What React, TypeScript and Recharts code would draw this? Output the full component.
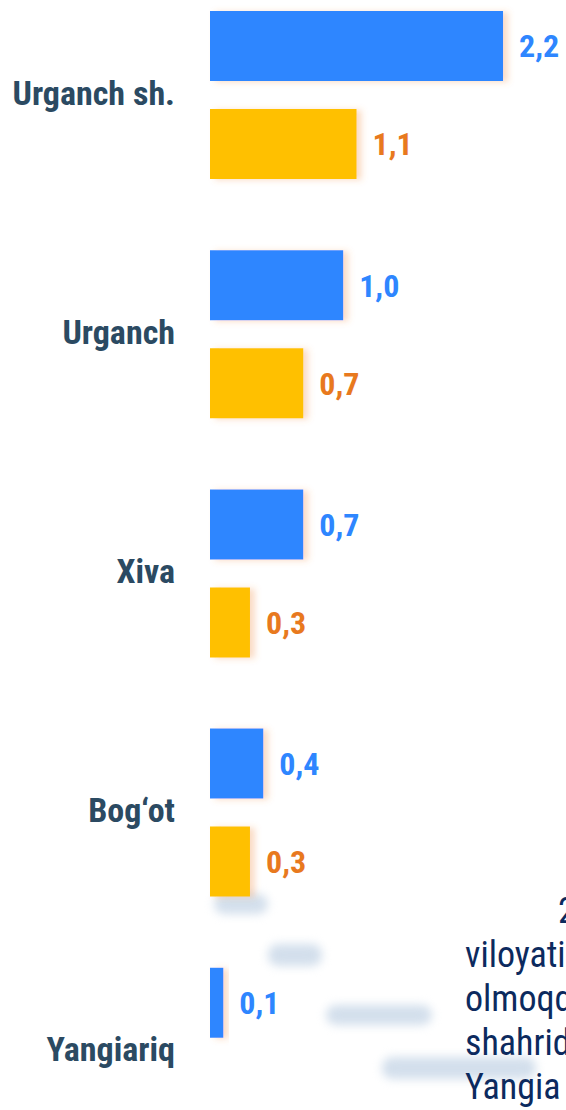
import React from 'react'
import { BarChart, Bar, XAxis, YAxis, LabelList } from 'recharts'

const districts = ['Urganch sh.', 'Urganch', 'Xiva', 'Bog‘ot', 'Yangiariq']
const blueValues = [2.2, 1.0, 0.7, 0.4, 0.1]
const yellowValues = [1.1, 0.7, 0.3, 0.3, 0]

// visible fragment of the neighbouring paragraph (cut by the page edge)
const sideLines = ['viloyati', 'olmoqd', 'shahrid', 'Yangia']

const data = districts.map((name, i) => ({ name, blue: blueValues[i], yellow: yellowValues[i] }))

const FONT = "'Roboto Condensed', 'Liberation Sans Narrow', 'DejaVu Sans Condensed', Roboto, sans-serif"
const BLUE = '#2E86FF'
const YELLOW = '#FFC000'
const ORANGE = '#E8791E'
const SLATE = '#2B4A62'

const fmt = (v: any) => (Number(v) === 0 ? '0' : Number(v).toFixed(1).replace('.', ','))

const CategoryTick = (props: any) => {
  const { y, payload } = props
  return (
    <text x={175} y={y + 10} textAnchor="end" fill={SLATE} fontSize={34} fontWeight={700} fontFamily={FONT}>
      {payload.value}
    </text>
  )
}

// soft blurred blobs in the lower part
const blobs = [
  { left: 214, top: 894, w: 54, h: 20 },
  { left: 268, top: 944, w: 54, h: 22 },
  { left: 326, top: 1005, w: 106, h: 20 },
  { left: 382, top: 1057, w: 154, h: 22 },
]

const App: React.FC = () => {
  return (
    <div style={{ position: 'absolute', left: 0, top: 0, width: 566, height: 1110, overflow: 'hidden', background: '#fff' }}>
      <svg width={0} height={0} style={{ position: 'absolute' }}>
        <defs>
          <filter id="barShadow" x="-20%" y="-20%" width="160%" height="140%">
            <feDropShadow dx={5} dy={1} stdDeviation={3} floodColor="#F08A3C" floodOpacity={0.3} />
          </filter>
        </defs>
      </svg>
      {blobs.map((b, i) => (
        <div
          key={i}
          style={{
            position: 'absolute',
            left: b.left,
            top: b.top,
            width: b.w,
            height: b.h,
            borderRadius: 10,
            background: '#D3DFEC',
            filter: 'blur(5px)',
          }}
        />
      ))}
      <div style={{ position: 'absolute', left: 0, top: -25 }}>
        <BarChart
          width={566}
          height={1196}
          data={data}
          layout="vertical"
          margin={{ top: 0, right: 23, left: 0, bottom: 0 }}
          barGap={28}
          barSize={70}
        >
          <XAxis type="number" domain={[0, 2.5]} hide />
          <YAxis
            type="category"
            dataKey="name"
            width={210}
            axisLine={false}
            tickLine={false}
            tick={<CategoryTick />}
            interval={0}
          />
          <Bar dataKey="blue" fill={BLUE} isAnimationActive={false} filter="url(#barShadow)">
            <LabelList dataKey="blue" position="right" offset={16} formatter={fmt} fill={BLUE} fontSize={32} fontWeight={700} fontFamily={FONT} />
          </Bar>
          <Bar dataKey="yellow" fill={YELLOW} isAnimationActive={false} filter="url(#barShadow)">
            <LabelList dataKey="yellow" position="right" offset={16} formatter={fmt} fill={ORANGE} fontSize={32} fontWeight={700} fontFamily={FONT} />
          </Bar>
        </BarChart>
      </div>
      <div
        style={{
          position: 'absolute',
          left: 465,
          top: 889,
          width: 101,
          fontFamily: FONT,
          fontSize: 36,
          lineHeight: '44px',
          color: '#0C2A5E',
          whiteSpace: 'nowrap',
        }}
      >
        <div style={{ paddingLeft: 93 }}>2</div>
        {sideLines.map((t) => (
          <div key={t}>{t}</div>
        ))}
      </div>
    </div>
  )
}

export default App
